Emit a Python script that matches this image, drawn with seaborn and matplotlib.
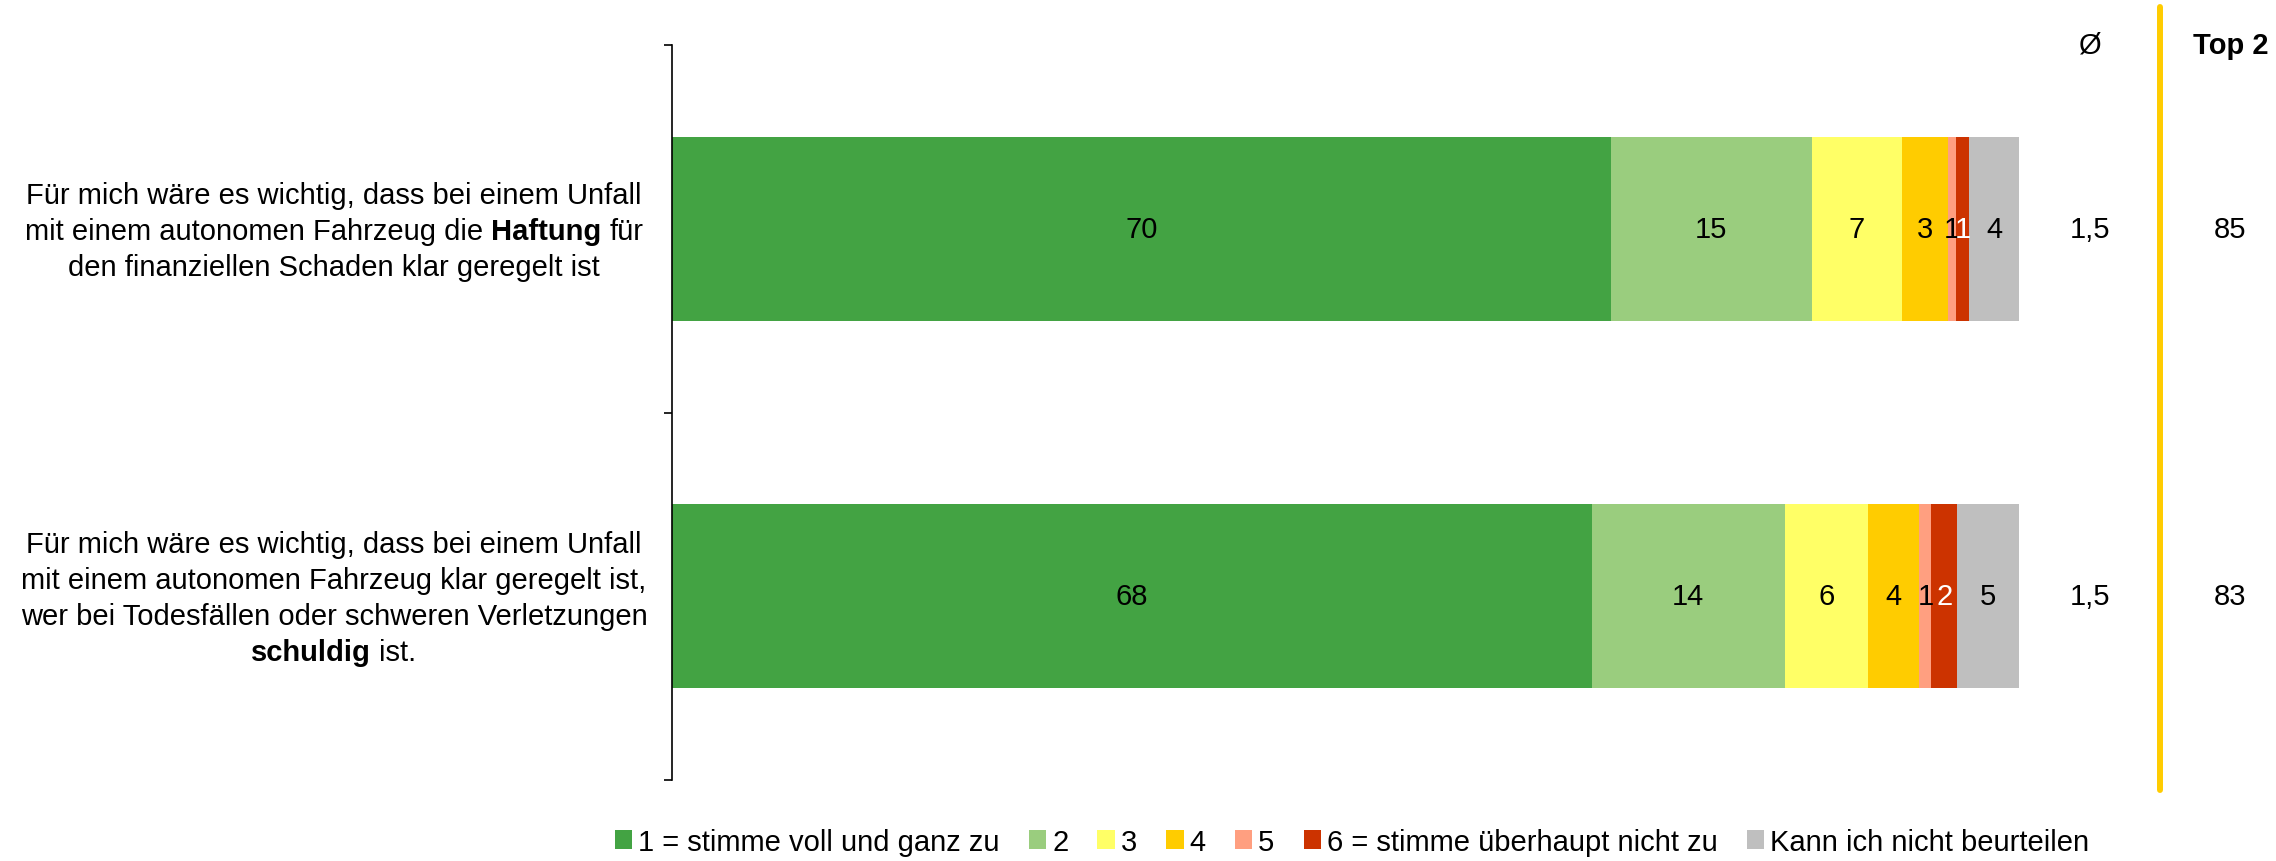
import matplotlib
matplotlib.use("Agg")
import matplotlib.pyplot as plt
import numpy as np
import pandas as pd
import seaborn as sns
from matplotlib.lines import Line2D
from matplotlib.patches import Patch

# ---- data -------------------------------------------------------------
statements = ["Haftung", "Schuld"]
answer_levels = [
    "1 = stimme voll und ganz zu", "2", "3", "4", "5",
    "6 = stimme überhaupt nicht zu", "Kann ich nicht beurteilen",
]
share_1 = [69.7, 68.3]
share_2 = [14.9, 14.3]
share_3 = [6.7, 6.2]
share_4 = [3.4, 3.8]
share_5 = [0.6, 0.9]
share_6 = [1.0, 1.9]
share_na = [3.8, 4.6]
mean_score = [1.5, 1.5]
top2 = [85, 83]

# statement texts, one list of lines per statement; words flagged True are bold
statement_lines = [
    [
        [("Für mich wäre es wichtig, dass bei einem Unfall", False)],
        [("mit einem autonomen Fahrzeug die", False), ("Haftung", True), ("für", False)],
        [("den finanziellen Schaden klar geregelt ist", False)],
    ],
    [
        [("Für mich wäre es wichtig, dass bei einem Unfall", False)],
        [("mit einem autonomen Fahrzeug klar geregelt ist,", False)],
        [("wer bei Todesfällen oder schweren Verletzungen", False)],
        [("schuldig", True), ("ist.", False)],
    ],
]

colors = ["#43A343", "#9ACD7E", "#FFFF66", "#FFCC00", "#FF9F80", "#CC3300", "#BFBFBF"]
label_colors = ["black", "black", "black", "black", "black", "white", "black"]

# ---- styling ----------------------------------------------------------
sns.set_theme(style="white")
plt.rcParams["font.family"] = ["Liberation Sans", "DejaVu Sans"]
plt.rcParams["text.color"] = "black"
FS = 21

W, H = 2276, 862
fig = plt.figure(figsize=(W / 100, H / 100), dpi=100)
ax = fig.add_axes([672 / W, 1 - 781 / H, (2019 - 672) / W, (781 - 46) / H])

series = [share_1, share_2, share_3, share_4, share_5, share_6, share_na]
values = np.array(series)            # shape (levels, statements)
cum = np.cumsum(values, axis=0)

# stacked bars: draw cumulative totals from the longest down so each segment shows
for k in range(len(series) - 1, -1, -1):
    df = pd.DataFrame({"statement": statements, "value": cum[k]})
    sns.barplot(data=df, x="value", y="statement", orient="h", color=colors[k],
                saturation=1, width=0.5, errorbar=None, linewidth=0, ax=ax)

ax.set_xlim(0, 100)
ax.set_ylim(1.5, -0.5)
ax.set_xlabel("")
ax.set_ylabel("")

# segment value labels
for k in range(len(series)):
    for i in range(len(statements)):
        v = values[k, i]
        ax.text(cum[k, i] - v / 2, i, f"{v:.0f}", ha="center", va="center",
                fontsize=FS, color=label_colors[k])

# axis: only left spine with boundary ticks
for side in ["top", "right", "bottom"]:
    ax.spines[side].set_visible(False)
ax.spines["left"].set_color("black")
ax.spines["left"].set_linewidth(1.2)
ax.set_yticks([-0.5, 0.5, 1.5])
ax.set_yticklabels([])
ax.set_xticks([])
ax.tick_params(axis="y", direction="out", length=6, width=1.2, color="black", left=True)

# mean and top-2 columns
x_mean, x_top = 105.3, 115.7
ax.text(x_mean, -0.5, "Ø", ha="center", va="center", fontsize=FS, clip_on=False)
ax.text(x_top, -0.5, "Top 2", ha="center", va="center", fontsize=FS,
        fontweight="bold", clip_on=False)
for i in range(len(statements)):
    ax.text(x_mean, i, f"{mean_score[i]:.1f}".replace(".", ","), ha="center",
            va="center", fontsize=FS, clip_on=False)
    ax.text(x_top, i, f"{top2[i]}", ha="center", va="center", fontsize=FS,
            clip_on=False)

fig.add_artist(Line2D([2160 / W, 2160 / W], [1 - 8 / H, 1 - 791 / H],
                      color="#FFCC00", lw=4.3, transform=fig.transFigure))

# statement labels with bold keywords, centered line by line
renderer = fig.canvas.get_renderer()


def text_width(s, bold):
    t = fig.text(0, 0, s, fontsize=FS, fontweight="bold" if bold else "normal")
    w = t.get_window_extent(renderer).width
    t.remove()
    return w


space_w = text_width("a a", False) - text_width("aa", False)
line_step = 36
label_cx = 334
for i, lines in enumerate(statement_lines):
    cy = ax.transData.transform((0, i))[1]
    n = len(lines)
    for j, parts in enumerate(lines):
        y_mid = cy + ((n - 1) / 2 - j) * line_step
        y_base = y_mid - 10
        widths = [text_width(s, b) for s, b in parts]
        total = sum(widths) + space_w * (len(parts) - 1)
        x = label_cx - total / 2
        for (s, b), w in zip(parts, widths):
            fig.text(x / W, y_base / H, s, fontsize=FS, ha="left", va="baseline",
                     fontweight="bold" if b else "normal")
            x += w + space_w

# legend
handles = [Patch(facecolor=c, edgecolor="none") for c in colors]
fig.legend(handles, answer_levels, loc="center", bbox_to_anchor=(1352 / W, 1 - 843 / H),
           ncol=7, frameon=False, fontsize=FS, handlelength=0.6, handleheight=0.6,
           handletextpad=0.2, columnspacing=1.0, labelcolor="black")

fig.savefig("out.png", dpi=100)
